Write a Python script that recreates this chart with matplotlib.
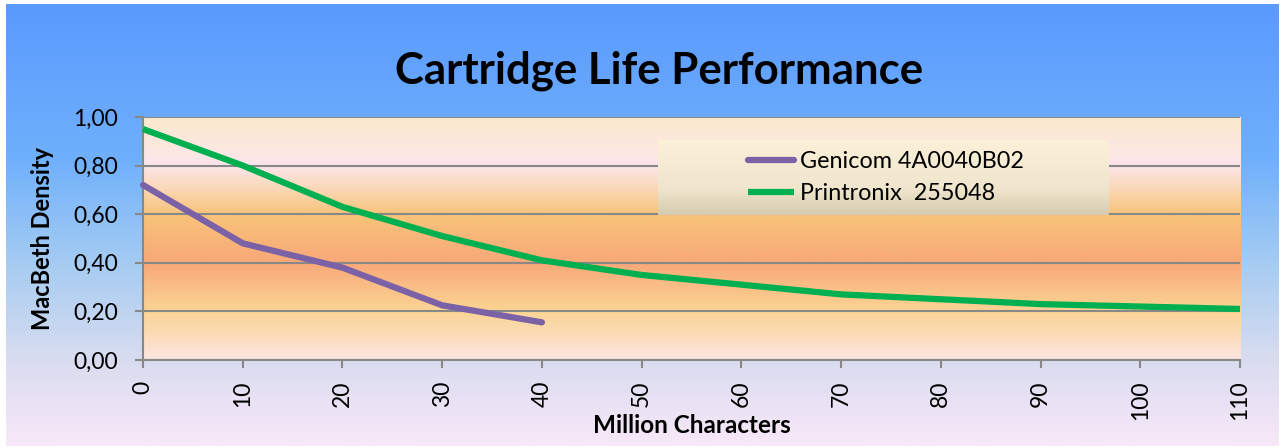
import numpy as np
import matplotlib
matplotlib.use("Agg")
import matplotlib.pyplot as plt
from matplotlib.colors import LinearSegmentedColormap
from matplotlib.ticker import FuncFormatter

plt.rcParams['font.family'] = ['Lato', 'DejaVu Sans']

# data
chars_genicom = [0, 10, 20, 30, 40]
density_genicom = [0.72, 0.48, 0.38, 0.225, 0.155]

chars_printronix = [0, 10, 20, 30, 40, 50, 60, 70, 80, 90, 100, 110]
density_printronix = [0.95, 0.80, 0.63, 0.51, 0.41, 0.35, 0.31, 0.27, 0.25, 0.23, 0.22, 0.21]

series_names = ["Genicom 4A0040B02", "Printronix  255048"]
x_ticks = list(range(0, 111, 10))
y_ticks = [0.0, 0.2, 0.4, 0.6, 0.8, 1.0]

fig = plt.figure(figsize=(12.85, 4.48), dpi=100)
fig.patch.set_facecolor("white")

# figure background: blue to lavender
bg = fig.add_axes([0.005, 0.005, 0.99, 0.985], zorder=-10)
bg_cmap = LinearSegmentedColormap.from_list(
    "bg", [(0.0, "#5a9afe"), (0.35, "#6fb0fc"), (0.6, "#a8cdf2"),
           (0.8, "#d8dcf0"), (1.0, "#f8e8f8")])
bg.imshow(np.linspace(0, 1, 256).reshape(-1, 1), aspect="auto", cmap=bg_cmap,
          extent=[0, 1, 0, 1])
bg.set_axis_off()

ax = fig.add_axes([0.1113, 0.1964, 0.8537, 0.5426])

# plot area gradient (bottom -> top)
pa_cmap = LinearSegmentedColormap.from_list(
    "pa", [(0.0, "#fde6e2"), (0.1, "#fcdcb8"), (0.2, "#fbd494"),
           (0.4, "#f8a878"), (0.6, "#f8c47a"), (0.73, "#fbdcc6"),
           (0.8, "#fde5ec"), (1.0, "#fbebcd")])
ax.imshow(np.linspace(0, 1, 256).reshape(-1, 1), aspect="auto", cmap=pa_cmap,
          origin="lower", extent=[0, 110, 0, 1], zorder=0)

ax.set_xlim(0, 110)
ax.set_ylim(0, 1)
ax.set_xticks(x_ticks)
ax.set_yticks(y_ticks)
ax.yaxis.set_major_formatter(FuncFormatter(lambda v, p: f"{v:.2f}".replace(".", ",")))
ax.tick_params(axis="x", labelrotation=90, labelsize=16.5, length=6, color="#888888", width=1.5, pad=9)
ax.tick_params(axis="y", labelsize=16.5, length=6, color="#888888", width=1.5, pad=12)
ax.grid(axis="y", color="#888888", linewidth=1.5, zorder=1)
for side in ["top", "right"]:
    ax.spines[side].set_visible(False)
for side in ["left", "bottom"]:
    ax.spines[side].set_color("#888888")
    ax.spines[side].set_linewidth(1.5)

ax.plot(chars_genicom, density_genicom, color="#7b62a6", linewidth=4.5,
        solid_capstyle="round", label=series_names[0], zorder=3, clip_on=False)
ax.plot(chars_printronix, density_printronix, color="#00b050", linewidth=4.5,
        solid_capstyle="butt", label=series_names[1], zorder=3, clip_on=False)

ax.set_xlabel("Million Characters", fontsize=17.5, fontweight="bold", labelpad=-5)
ax.set_ylabel("MacBeth Density", fontsize=17, fontweight="bold", labelpad=14)

fig.text(0.513, 0.843, "Cartridge Life Performance", fontsize=31.5,
         fontweight="bold", ha="center", va="center")

# legend box with its own soft gradient
lg_ax = ax.inset_axes([0.469, 0.597, 0.411, 0.308], zorder=4)
lg_cmap = LinearSegmentedColormap.from_list(
    "lg", [(0.0, "#d6cbb0"), (0.35, "#efe6cd"), (1.0, "#fcf0d8")])
lg_ax.imshow(np.linspace(0, 1, 64).reshape(-1, 1), aspect="auto", cmap=lg_cmap,
             origin="lower", extent=[0, 1, 0, 1])
lg_ax.set_axis_off()

leg = ax.legend(loc="center left", bbox_to_anchor=(0.532, 0.75), frameon=False,
                fontsize=16.8, handlelength=2.0, handletextpad=0.25, labelspacing=0.45)
leg.set_zorder(5)

fig.savefig("out.png", dpi=100)
